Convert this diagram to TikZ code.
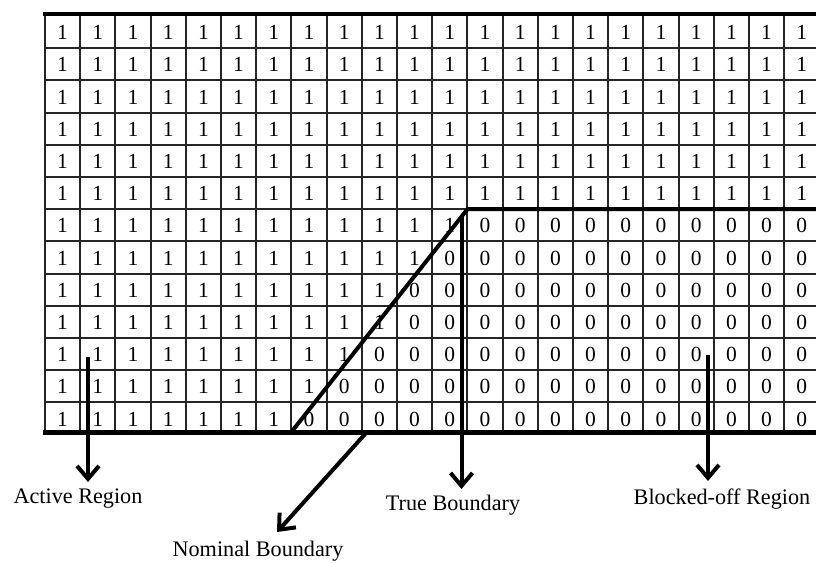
\documentclass[tikz,border=0pt]{standalone}
\usepackage{fontspec}
\setmainfont{Liberation Serif}
\usetikzlibrary{arrows.meta}
\begin{document}
\begin{tikzpicture}[x=1pt,y=-1pt,
  gridline/.style={line width=2pt, draw=black!85},
  edge/.style={line width=4.5pt},
  boundary/.style={line width=4pt},
  pointer/.style={line width=4pt, -{Straight Barb[length=13pt,width=22pt]}},
  cell/.style={font=\fontsize{21.5}{21.5}\selectfont, inner sep=0pt},
  caption/.style={font=\fontsize{22.2}{24}\selectfont, inner sep=0pt}]
\useasboundingbox (0,0) rectangle (816,564);
\fill[white] (0,0) rectangle (816,564);

% cell values: number of leading ones in each row, zeros after
\foreach \r/\nn in {0/22,1/22,2/22,3/22,4/22,5/22,6/12,7/11,8/10,9/10,10/9,11/8,12/7}
  \foreach \c in {0,...,21}
    \node[cell] (c-\r-\c) at ({45+(\c+0.5)*35.2},{16.5+(\r+0.5)*32.2}) {\ifnum\c<\nn\relax 1\else 0\fi};

% grid
\foreach \k in {1,...,12}
  \draw[gridline] (45,{16+\k*32.2}) -- (816,{16+\k*32.2});
\foreach \k in {1,...,21}
  \draw[gridline] ({45+\k*35.2},16) -- ({45+\k*35.2},432);
\draw[gridline, line width=2.6pt] (45,14) -- (45,432);
\draw[edge] (43,14) -- (816,14);
\draw[edge] (43,432.5) -- (816,432.5);

% boundary: sloped segment and blocked-off top edge
\coordinate (foot) at ({45+7*35.2},432);
\coordinate (corner) at ({45+12*35.2},{16+6*32.2});
\coordinate (east) at (816,{16+6*32.2});
\draw[boundary, line join=miter] (foot) -- (corner) -- (east);

% captions
\node[caption] (lbl-active) at (78,499) {Active Region};
\node[caption] (lbl-nominal) at (258,551) {Nominal Boundary};
\node[caption] (lbl-true) at (453,505) {True Boundary};
\node[caption] (lbl-blocked) at (722,499) {Blocked-off Region};

% pointers
\coordinate (p-active) at (88,357);
\coordinate (t-active) at (88,482);
\coordinate (p-nominal) at (366,433);
\coordinate (t-nominal) at (277,532);
\coordinate (p-true) at (461.5,217);
\coordinate (t-true) at (461.5,489);
\coordinate (p-blocked) at (708,355);
\coordinate (t-blocked) at (708,481);
\draw[pointer] (p-active) -- (t-active);
\draw[pointer] (p-nominal) -- (t-nominal);
\draw[pointer] (p-true) -- (t-true);
\draw[pointer] (p-blocked) -- (t-blocked);
\end{tikzpicture}
\end{document}
